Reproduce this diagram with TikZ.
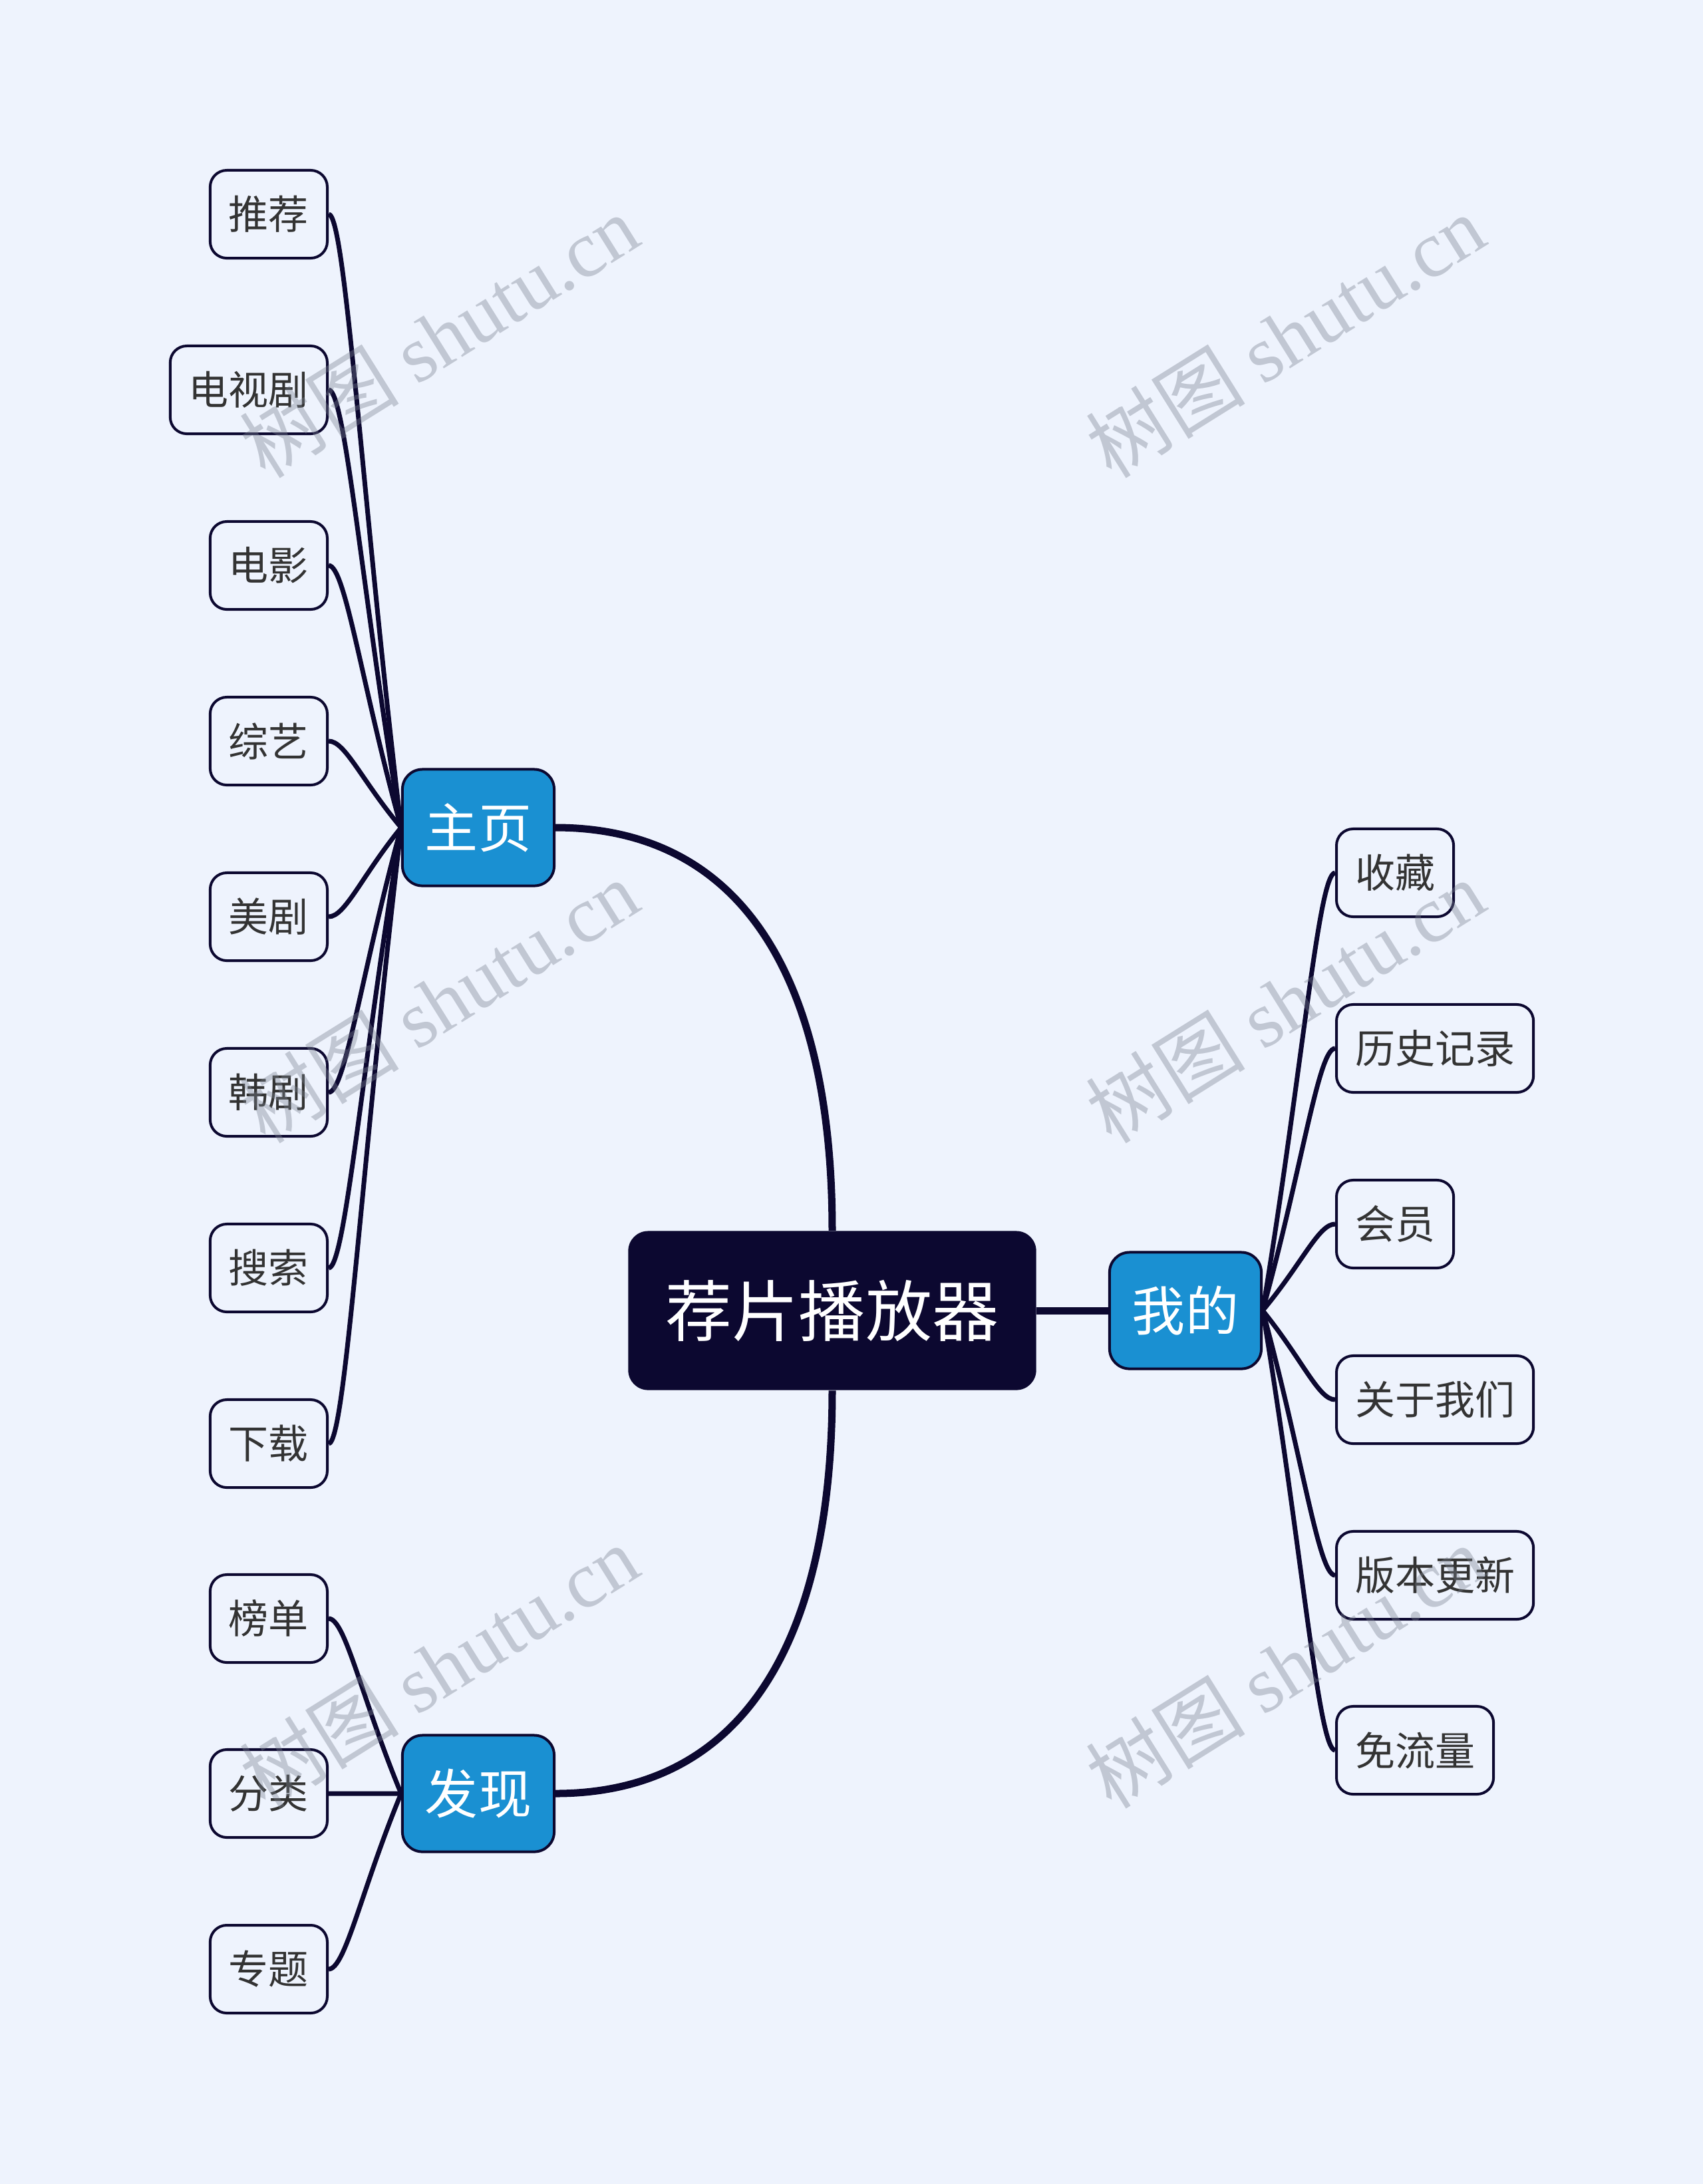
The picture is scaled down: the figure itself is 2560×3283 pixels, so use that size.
\documentclass[tikz,border=0pt]{standalone}
\usepackage{fontspec}
\setmainfont{Noto Sans CJK SC}
\newfontfamily\wmserif{Liberation Serif}
\usepackage{tikz}
\usetikzlibrary{calc, backgrounds, positioning}
\definecolor{pagebg}{HTML}{EEF3FD}
\definecolor{inkline}{HTML}{0C0830}
\definecolor{topicblue}{HTML}{1A90D2}
\definecolor{leafgray}{HTML}{333333}
\definecolor{markgray}{HTML}{78808F}
\tikzset{
	rootnode/.style={
			rectangle,
			rounded corners=0.3cm,
			fill=inkline,
			draw=none,
			text=white,
			font=\fontsize{1cm}{1.2cm}\selectfont,
			inner xsep=0.565cm,
			inner ysep=0pt,
			minimum height=2.39cm
		},
	topicnode/.style={
			rectangle,
			rounded corners=0.3cm,
			fill=topicblue,
			draw=inkline,
			line width=0.04cm,
			text=white,
			font=\fontsize{0.8cm}{0.96cm}\selectfont,
			inner xsep=0.34cm,
			inner ysep=0pt,
			minimum height=1.75cm
		},
	leafnode/.style={
			rectangle,
			rounded corners=0.25cm,
			fill=pagebg,
			draw=inkline,
			line width=0.04cm,
			text=leafgray,
			font=\fontsize{0.6cm}{0.72cm}\selectfont,
			inner xsep=0.28cm,
			inner ysep=0pt,
			minimum height=1.32cm
		},
	mainline/.style={
			draw=inkline,
			line width=0.11cm
		},
	leafline/.style={
			draw=inkline,
			line width=0.07cm,
			to path={.. controls ($(\tikztostart)+(#1,0)$) and ($(\tikztostart)!0.45!(\tikztotarget)$) .. (\tikztotarget)}
		},
	leafline/.default=25,
	watermark/.style={
			text=markgray,
			text opacity=0.38,
			rotate=32,
			font=\fontsize{1.2cm}{1.4cm}\selectfont
		}
}

\begin{document}
\begin{tikzpicture}[x=0.01cm, y=-0.01cm]
\useasboundingbox (0,0) rectangle (2560,3283);

\node[rootnode] (player) at (1251,1970) {荐片播放器};

\node[topicnode] (zhuye) at (719,1244) {主页};
\node[topicnode] (faxian) at (719,2696) {发现};
\node[topicnode] (wode) at (1782,1970) {我的};

% left side
\node[leafnode, anchor=east] (tuijian) at (494,322) {推荐};
\node[leafnode, anchor=east] (dianshiju) at (494,586) {电视剧};
\node[leafnode, anchor=east] (dianying) at (494,850) {电影};
\node[leafnode, anchor=east] (zongyi) at (494,1114) {综艺};
\node[leafnode, anchor=east] (meiju) at (494,1378) {美剧};
\node[leafnode, anchor=east] (hanju) at (494,1642) {韩剧};
\node[leafnode, anchor=east] (sousuo) at (494,1906) {搜索};
\node[leafnode, anchor=east] (xiazai) at (494,2170) {下载};
\node[leafnode, anchor=east] (bangdan) at (494,2433) {榜单};
\node[leafnode, anchor=east] (fenlei) at (494,2696) {分类};
\node[leafnode, anchor=east] (zhuanti) at (494,2960) {专题};

% right side
\node[leafnode, anchor=west] (shoucang) at (2007,1312) {收藏};
\node[leafnode, anchor=west] (lishi) at (2007,1576) {历史记录};
\node[leafnode, anchor=west] (huiyuan) at (2007,1840) {会员};
\node[leafnode, anchor=west] (guanyu) at (2007,2104) {关于我们};
\node[leafnode, anchor=west] (banben) at (2007,2368) {版本更新};
\node[leafnode, anchor=west] (mianliu) at (2007,2631) {免流量};

\begin{scope}[on background layer]
\fill[pagebg] (0,0) rectangle (2560,3283);

\draw[mainline] (player.north) .. controls +(0,-395) and +(270,0) .. (zhuye.east);
\draw[mainline] (player.south) .. controls +(0,395) and +(270,0) .. (faxian.east);
\draw[mainline] (player.east) -- (wode.west);

\draw[leafline] (tuijian.east) to (zhuye.west);
\draw[leafline] (dianshiju.east) to (zhuye.west);
\draw[leafline] (dianying.east) to (zhuye.west);
\draw[leafline] (zongyi.east) to (zhuye.west);
\draw[leafline] (meiju.east) to (zhuye.west);
\draw[leafline] (hanju.east) to (zhuye.west);
\draw[leafline] (sousuo.east) to (zhuye.west);
\draw[leafline] (xiazai.east) to (zhuye.west);

\draw[leafline] (bangdan.east) to (faxian.west);
\draw[leafline] (fenlei.east) to (faxian.west);
\draw[leafline] (zhuanti.east) to (faxian.west);

\draw[leafline=-25] (shoucang.west) to (wode.east);
\draw[leafline=-25] (lishi.west) to (wode.east);
\draw[leafline=-25] (huiyuan.west) to (wode.east);
\draw[leafline=-25] (guanyu.west) to (wode.east);
\draw[leafline=-25] (banben.west) to (wode.east);
\draw[leafline=-25] (mianliu.west) to (wode.east);
\end{scope}

% watermarks
\node[watermark] (markA) at (660,505) {树图 {\wmserif shutu.cn}};
\node[watermark] (markB) at (1932,505) {树图 {\wmserif shutu.cn}};
\node[watermark] (markC) at (660,1505) {树图 {\wmserif shutu.cn}};
\node[watermark] (markD) at (1932,1505) {树图 {\wmserif shutu.cn}};
\node[watermark] (markE) at (660,2505) {树图 {\wmserif shutu.cn}};
\node[watermark] (markF) at (1932,2505) {树图 {\wmserif shutu.cn}};

\end{tikzpicture}
\end{document}
